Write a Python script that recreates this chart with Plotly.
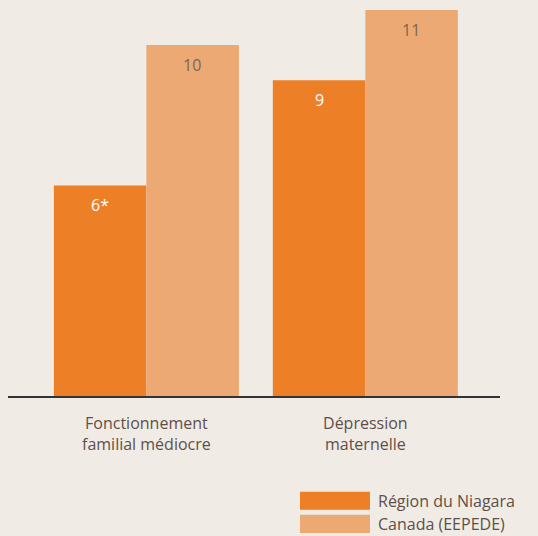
import plotly.graph_objects as go

categories = ["Fonctionnement<br>familial médiocre", "Dépression<br>maternelle"]
niagara = [6, 9]
niagara_text = ["6*", "9"]
canada = [10, 11]
canada_text = ["10", "11"]
series_names = ["Région du Niagara", "Canada (EEPEDE)"]

BG = "#f0ebe5"
DARK = "#ed7f27"
LIGHT = "#eda973"
TXT = "#5e5048"
FONT = "Open Sans"

fig = go.Figure()
fig.add_trace(go.Bar(x=categories, y=niagara, name=series_names[0],
                     marker_color=DARK, marker_line_width=0))
fig.add_trace(go.Bar(x=categories, y=canada, name=series_names[1],
                     marker_color=LIGHT, marker_line_width=0))

# value labels inside the top of each bar
for vals, texts, shift, color in [(niagara, niagara_text, -46, "white"),
                                  (canada, canada_text, 46, "#7a6656")]:
    for cat, v, t in zip(categories, vals, texts):
        fig.add_annotation(x=cat, y=v, xref="x", yref="y", text=t,
                           showarrow=False, xshift=shift, yshift=-20,
                           xanchor="center", yanchor="middle",
                           font=dict(size=16, color=color, family=FONT))

fig.update_layout(
    width=538, height=536,
    margin=dict(l=8, r=38, t=10, b=140),
    paper_bgcolor=BG, plot_bgcolor=BG,
    barmode="group", bargap=0.155, bargroupgap=0,
    showlegend=False,
    font=dict(family=FONT, color=TXT, size=16),
)
fig.update_xaxes(
    type="category", range=[-0.632, 1.615],
    showline=True, linecolor="#333333", linewidth=2,
    ticks="", showgrid=False, ticklabelstandoff=12,
    tickfont=dict(size=16, color=TXT, family=FONT),
)
fig.update_yaxes(range=[0, 11], visible=False, showgrid=False, zeroline=False)

# Legend drawn as swatches + labels
legend_items = [(series_names[0], DARK, 0.0), (series_names[1], LIGHT, 1.0)]
for name, color, i in legend_items:
    y0 = -0.248 - i * 0.0596
    fig.add_shape(type="rect", xref="paper", yref="paper",
                  x0=(300 - 8) / 492, x1=(370 - 8) / 492,
                  y0=y0 - 0.047, y1=y0, fillcolor=color, line_width=0)
    fig.add_annotation(xref="paper", yref="paper", x=(376 - 8) / 492,
                       y=y0 - 0.0235, text=name, showarrow=False,
                       xanchor="left", yanchor="middle",
                       font=dict(size=16, color=TXT, family=FONT))

fig.write_html("out.html")
